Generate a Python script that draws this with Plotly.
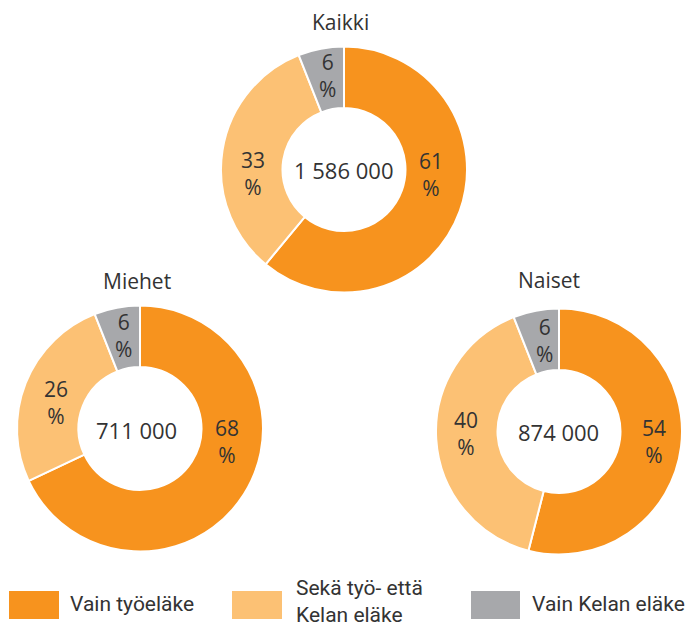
import plotly.graph_objects as go

W, H = 698, 630

categories = ["Vain työeläke", "Sekä työ- että Kelan eläke", "Vain Kelan eläke"]
legend_labels = ["Vain työeläke", "Sekä työ- että<br>Kelan eläke", "Vain Kelan eläke"]
colors = ["#F7931E", "#FCC174", "#A7A8AB"]

groups = ["Kaikki", "Miehet", "Naiset"]
totals = ["1 586 000", "711 000", "874 000"]
kaikki = [61, 33, 6]
miehet = [68, 26, 6]
naiset = [54, 40, 6]
values = [kaikki, miehet, naiset]

# pixel layout (left, top, right, bottom) of each donut
boxes = [(221, 46, 467, 293), (17, 305, 263, 552), (436, 308, 682, 555)]
title_pos = [(340.5, 22), (137, 281), (548.5, 280)]
center_pos = [(343, 170), (136, 430), (558, 432)]
# centre of each two-line percent label (per slice)
label_pos = [
    [(431, 174), (253, 173), (327, 75)],
    [(227, 442), (56, 403), (123, 335)],
    [(654, 441), (466, 433), (544, 340)],
]

TEXT = "#333333"
FONT = "Open Sans"

def px(x):
    return x / W

def py(y):
    return 1 - y / H

fig = go.Figure()
for g, vals, box in zip(groups, values, boxes):
    l, t, r, b = box
    fig.add_trace(go.Pie(
        labels=categories,
        values=vals,
        name=g,
        hole=0.5,
        sort=False,
        direction="clockwise",
        rotation=0,
        marker=dict(colors=colors, line=dict(color="white", width=2)),
        textinfo="none",
        domain=dict(x=[px(l), px(r)], y=[py(b), py(t)]),
        showlegend=False,
        hoverinfo="label+percent",
    ))

annotations = []

def add_text(text, x, y, size=21, xanchor="center", family=FONT, align="center"):
    annotations.append(dict(text=text, x=px(x), y=py(y), xref="paper", yref="paper",
                            showarrow=False, xanchor=xanchor, yanchor="middle", align=align,
                            font=dict(family=family, size=size, color=TEXT)))

for g, (x, y) in zip(groups, title_pos):
    add_text(g, x, y, size=21)
for tot, (x, y) in zip(totals, center_pos):
    add_text(tot, x, y, size=22)
for vals, poss in zip(values, label_pos):
    for v, (x, y) in zip(vals, poss):
        add_text(f"{v}<br>%", x, y, size=21)

# custom legend
legend_boxes = [(9, 591, 59, 619), (232, 591, 282, 619), (471, 591, 520, 619)]
legend_text_pos = [(68, 604), (294, 601), (530, 604)]
shapes = []
for c, (x0, y0, x1, y1) in zip(colors, legend_boxes):
    shapes.append(dict(type="rect", xref="paper", yref="paper",
                       x0=px(x0), x1=px(x1), y0=py(y1), y1=py(y0),
                       fillcolor=c, line=dict(width=0)))
for lab, (x, y) in zip(legend_labels, legend_text_pos):
    add_text(lab, x, y, size=21, xanchor="left", family="Roboto", align="left")

fig.update_layout(
    width=W, height=H,
    margin=dict(l=0, r=0, t=0, b=0),
    paper_bgcolor="white",
    plot_bgcolor="white",
    annotations=annotations,
    shapes=shapes,
    showlegend=False,
)

fig.write_html(
    "out.html",
    config={"displayModeBar": False},
    post_script="document.body.style.margin='0';document.body.style.overflow='hidden';",
)
